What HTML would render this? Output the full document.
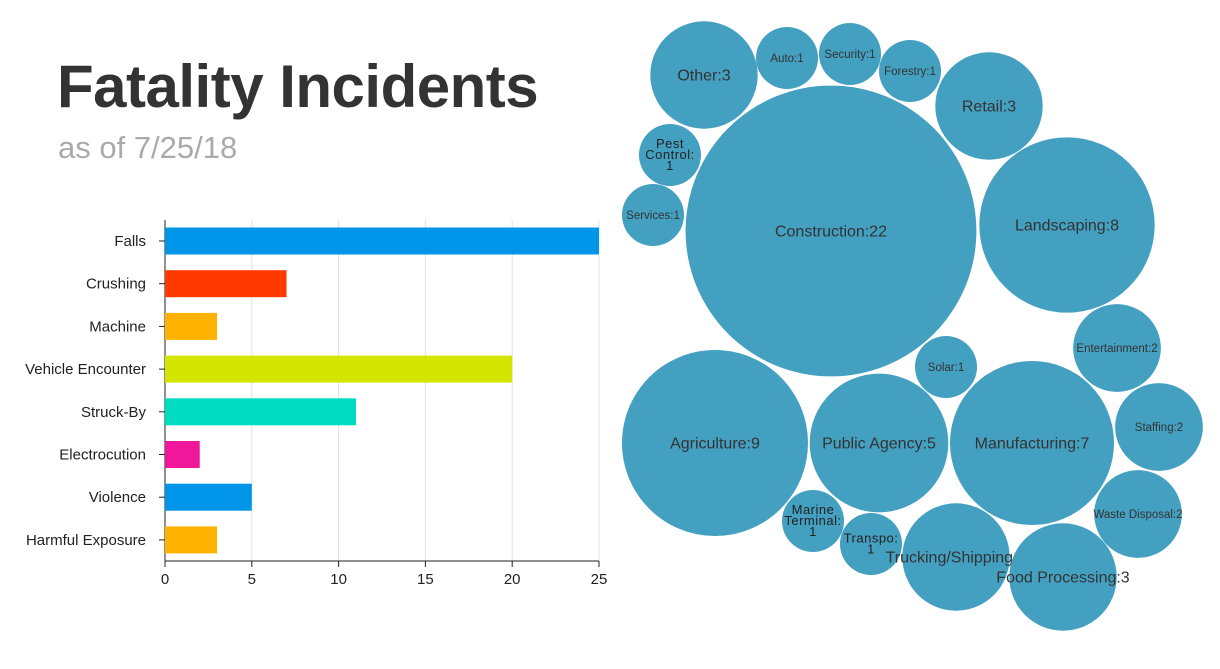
<!DOCTYPE html>
<html><head><meta charset="utf-8"><style>
body{margin:0;background:#fff;width:1220px;height:669px;overflow:hidden;font-family:"Liberation Sans",sans-serif}
#title{position:absolute;left:57px;top:52px;font-size:60px;font-weight:bold;color:#333;margin:0;letter-spacing:-0.5px}
#sub{position:absolute;left:58px;top:130px;font-size:31px;color:#aaa}
svg{position:absolute;left:0;top:0}
</style></head><body>
<div id="title">Fatality Incidents</div>
<div id="sub">as of 7/25/18</div>
<svg id="s" width="1220" height="669"></svg>
<script>
const categories=["Falls","Crushing","Machine","Vehicle Encounter","Struck-By","Electrocution","Violence","Harmful Exposure"];
const values=[25,7,3,20,11,2,5,3];
const colors=["#0095e9","#ff3a00","#ffb300","#d4e600","#00dcc1","#f0179b","#0095e9","#ffb300"];
const ticks=[0,5,10,15,20,25];
const bubbleLabels=["Other","Auto","Security","Forestry","Retail","Pest Control","Services","Construction","Landscaping","Entertainment","Solar","Agriculture","Public Agency","Manufacturing","Staffing","Waste Disposal","Marine Terminal","Transpo","Trucking/Shipping","Food Processing"];
const bubbleValues=[3,1,1,1,3,1,1,22,8,2,1,9,5,7,2,2,1,1,3,3];
const bubbleX=[704,787,850,910,989,670,653,831,1067,1117,946,715,879,1032,1159,1138,813,871,956,1063];
const bubbleY=[75,58,54,71,106,155,215,231,225,348,367,443,443,443,427,514,521,544,557,577];
const NS="http://www.w3.org/2000/svg",s=document.getElementById('s');
function mk(t,a,txt){const e=document.createElementNS(NS,t);for(const k in a)e.setAttribute(k,a[k]);if(txt!=null)e.textContent=txt;s.appendChild(e);return e;}
const x0=165,x1=599,xs=v=>x0+(x1-x0)*v/25;
const yTop=220,step=42.7,ys=i=>241+i*step;
ticks.forEach(t=>{if(t>0){const g=mk('line',{x1:xs(t),x2:xs(t),y1:yTop,y2:561,stroke:'#e0e0e0'});
}
const l=mk('text',{x:xs(t),y:584,'text-anchor':'middle','font-size':15,fill:'#222'},t);

const tk=mk('line',{x1:xs(t),x2:xs(t),y1:561,y2:567,stroke:'#222'});
});
const ax=mk('line',{x1:x0,x2:x1,y1:561,y2:561,stroke:'#222'});

const ay=mk('line',{x1:x0,x2:x0,y1:yTop,y2:561,stroke:'#222'});

categories.forEach((c,i)=>{const r=mk('rect',{x:x0,y:ys(i)-13.5,width:xs(values[i])-x0,height:27,fill:colors[i]});

const l=mk('text',{x:146,y:ys(i)+5,'text-anchor':'end','font-size':15,fill:'#222'},c);

const tk=mk('line',{x1:159,x2:165,y1:ys(i),y2:ys(i),stroke:'#222'});
});
bubbleLabels.forEach((b,i)=>{const r=31*Math.sqrt(bubbleValues[i]);
const c=mk('circle',{cx:bubbleX[i],cy:bubbleY[i],r:r,fill:'#44a0c0'});

const fs=r>50?16:11.5;
if(b==="Pest Control"||b==="Marine Terminal"||b==="Transpo"){
const parts=b==="Transpo"?["Transpo:","1"]:[b.split(' ')[0],b.split(' ')[1]+":",bubbleValues[i]+""];
const off=(parts.length-1)*11/2;
parts.forEach((p,j)=>{const t=mk('text',{x:bubbleX[i],y:bubbleY[i]-off+j*11+4,'text-anchor':'middle','font-size':13,fill:'#222','letter-spacing':'0.5'},p);
});
}else{const t=mk('text',{x:bubbleX[i],y:bubbleY[i]+fs*0.35,'text-anchor':'middle','font-size':fs,fill:'#333'},b+":"+bubbleValues[i]);
}});
</script>
</body></html>
